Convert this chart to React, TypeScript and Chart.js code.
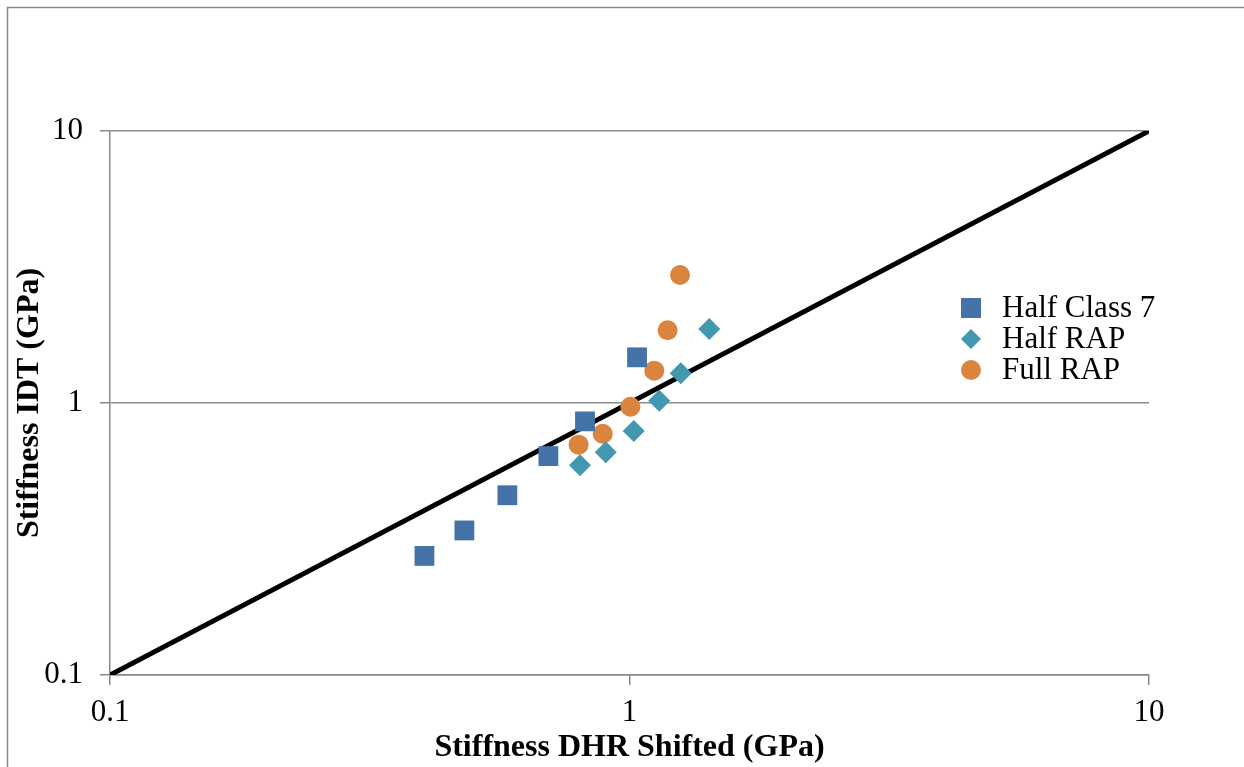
import React, { useEffect, useRef } from "react";
import { Chart, registerables } from "chart.js";

Chart.register(...registerables);

const seriesNames = ["Half Class 7", "Half RAP", "Full RAP"];
const halfClass7X = [0.403, 0.481, 0.582, 0.698, 0.821, 1.034];
const halfClass7Y = [0.274, 0.34, 0.458, 0.638, 0.856, 1.472];
const halfRapX = [0.803, 0.9, 1.019, 1.141, 1.255, 1.424];
const halfRapY = [0.591, 0.659, 0.789, 1.02, 1.286, 1.871];
const fullRapX = [0.798, 0.888, 1.004, 1.116, 1.184, 1.251];
const fullRapY = [0.703, 0.771, 0.969, 1.315, 1.851, 2.956];
const equalityX = [0.1, 10];
const equalityY = [0.1, 10];
const tickValues = [0.1, 1, 10];
const tickLabels = ["0.1", "1", "10"];

const colors = ["#4572A7", "#4198AF", "#DB843D"];
const shapes = ["rect", "rectRot", "circle"];
const radii = [14, 11, 10];

const toPoints = (xs: number[], ys: number[]) => xs.map((x, i) => ({ x, y: ys[i] }));

const FONT = "'Liberation Serif', 'Times New Roman', serif";
const GRID = "#8a8a8a";

const framePlugin = {
  id: "frame",
  beforeDraw(chart: any) {
    const ctx = chart.ctx;
    ctx.save();
    ctx.strokeStyle = GRID;
    ctx.lineWidth = 1.5;
    ctx.strokeRect(7.5, 7.5, 2000, 2000);
    ctx.restore();
  },
};

const legendPlugin = {
  id: "customLegend",
  afterDraw(chart: any) {
    const ctx = chart.ctx;
    ctx.save();
    const mx = 971;
    const tx = 1002;
    const y0 = 308;
    const dy = 31;
    seriesNames.forEach((name, i) => {
      const y = y0 + i * dy;
      ctx.fillStyle = colors[i];
      if (shapes[i] === "rect") {
        ctx.fillRect(mx - 10, y - 10, 20, 20);
      } else if (shapes[i] === "rectRot") {
        ctx.beginPath();
        ctx.moveTo(mx, y - 10);
        ctx.lineTo(mx + 10, y);
        ctx.lineTo(mx, y + 10);
        ctx.lineTo(mx - 10, y);
        ctx.closePath();
        ctx.fill();
      } else {
        ctx.beginPath();
        ctx.arc(mx, y, 10, 0, Math.PI * 2);
        ctx.fill();
      }
      ctx.fillStyle = "#000";
      ctx.font = `31px ${FONT}`;
      ctx.textAlign = "left";
      ctx.textBaseline = "middle";
      ctx.fillText(name, tx, y + 1);
    });
    ctx.restore();
  },
};

export default function App() {
  const ref = useRef<HTMLCanvasElement | null>(null);

  useEffect(() => {
    document.body.style.margin = "0";
    if (!ref.current) return;
    const scatterSets = [
      toPoints(halfClass7X, halfClass7Y),
      toPoints(halfRapX, halfRapY),
      toPoints(fullRapX, fullRapY),
    ].map((data, i) => ({
      type: "scatter" as const,
      label: seriesNames[i],
      data,
      backgroundColor: colors[i],
      borderColor: colors[i],
      borderWidth: 0,
      pointStyle: shapes[i],
      pointRadius: radii[i],
      pointHoverRadius: radii[i],
    }));

    const chart = new Chart(ref.current, {
      type: "scatter",
      data: {
        datasets: [
          ...scatterSets,
          {
            type: "line" as const,
            label: "Equality",
            data: toPoints(equalityX, equalityY),
            borderColor: "#000",
            borderWidth: 5,
            pointRadius: 0,
            showLine: true,
            fill: false,
          },
        ] as any,
      },
      options: {
        animation: false,
        responsive: false,
        maintainAspectRatio: false,
        layout: { padding: { left: 0, top: 131, right: 95, bottom: 0 } },
        plugins: {
          legend: { display: false },
          tooltip: { enabled: false },
        },
        scales: {
          x: {
            type: "logarithmic",
            min: 0.1,
            max: 10,
            afterBuildTicks: (scale: any) => {
              scale.ticks = tickValues.map((v) => ({ value: v }));
            },
            afterFit: (scale: any) => {
              scale.height = 92;
            },
            ticks: {
              autoSkip: false,
              maxRotation: 0,
              color: "#000",
              font: { family: FONT, size: 31 },
              padding: 9,
              callback: (v: any) => tickLabels[tickValues.indexOf(Number(v))] ?? "",
            },
            grid: {
              drawOnChartArea: false,
              drawTicks: true,
              tickLength: 10,
              color: GRID,
              lineWidth: 1.5,
            },
            border: { display: true, color: GRID, width: 1.5 },
            title: {
              display: true,
              text: "Stiffness DHR Shifted (GPa)",
              color: "#000",
              font: { family: FONT, size: 32, weight: "bold" },
              padding: { top: 0, bottom: 0 },
            },
          },
          y: {
            type: "logarithmic",
            min: 0.1,
            max: 10,
            afterBuildTicks: (scale: any) => {
              scale.ticks = tickValues.map((v) => ({ value: v }));
            },
            afterFit: (scale: any) => {
              scale.width = 110;
            },
            ticks: {
              autoSkip: false,
              color: "#000",
              font: { family: FONT, size: 31 },
              padding: 17,
              callback: (v: any) => tickLabels[tickValues.indexOf(Number(v))] ?? "",
            },
            grid: {
              drawOnChartArea: true,
              drawTicks: true,
              tickLength: 10,
              color: GRID,
              lineWidth: 1.5,
            },
            border: { display: true, color: GRID, width: 1.5 },
            title: {
              display: true,
              text: "Stiffness IDT (GPa)",
              color: "#000",
              font: { family: FONT, size: 32, weight: "bold" },
              padding: { top: 11, bottom: 0 },
            },
          },
        },
      } as any,
      plugins: [framePlugin, legendPlugin],
    });
    return () => chart.destroy();
  }, []);

  return <canvas ref={ref} width={1244} height={767} style={{ display: "block" }} />;
}
